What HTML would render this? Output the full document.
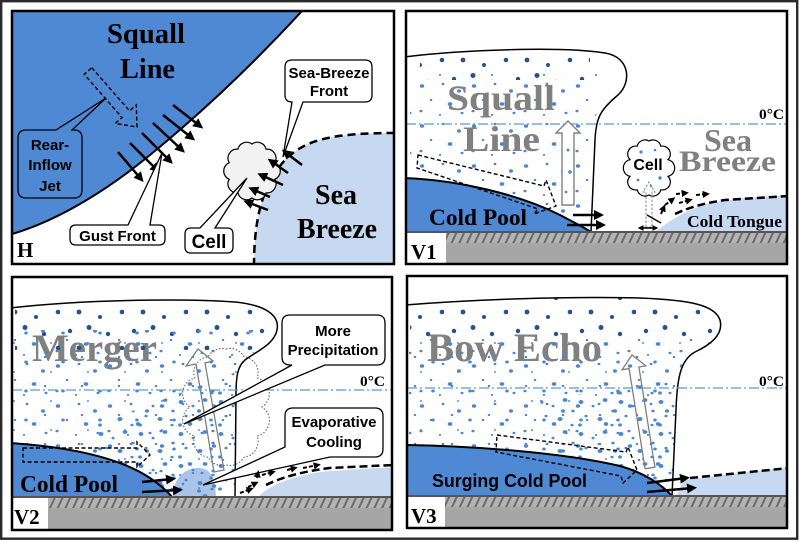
<!DOCTYPE html>
<html><head><meta charset="utf-8">
<style>
html,body{margin:0;padding:0;background:#fff;}
svg{display:block;}
.sf{font-family:"Liberation Serif",serif;font-weight:bold;}
.ss{font-family:"Liberation Sans",sans-serif;font-weight:bold;}
</style></head><body>
<svg width="799" height="543" viewBox="0 0 799 543" xmlns="http://www.w3.org/2000/svg">
<defs>
 <marker id="ah" viewBox="0 0 10 10" refX="6" refY="5" markerWidth="4" markerHeight="4" orient="auto-start-reverse" markerUnits="strokeWidth"><path d="M0,0 L10,5 L0,10 Z" fill="#000"/></marker>
 <marker id="ahs" viewBox="0 0 10 10" refX="6" refY="5" markerWidth="3.6" markerHeight="3.6" orient="auto-start-reverse" markerUnits="strokeWidth"><path d="M0,0 L10,5 L0,10 Z" fill="#000"/></marker>
 <pattern id="hatch" patternUnits="userSpaceOnUse" width="7" height="7" patternTransform="rotate(25)">
  <rect width="7" height="7" fill="#b3b3b3"/><rect x="0" y="0" width="2" height="7" fill="#6b6b6b"/>
 </pattern>
 <pattern id="ps" patternUnits="userSpaceOnUse" width="64" height="36">
  <g fill="#24528f"><circle cx="6" cy="7" r="2.2"/><circle cx="25" cy="3.5" r="2.5"/><circle cx="44" cy="10" r="2.2"/><circle cx="58" cy="24" r="2.3"/><circle cx="15" cy="24" r="2.4"/><circle cx="36" cy="29" r="2"/></g>
 </pattern>
 <pattern id="pds" patternUnits="userSpaceOnUse" width="52" height="40">
  <g fill="#4a87d0"><ellipse cx="6" cy="6" rx="2.2" ry="1.8"/><ellipse cx="27" cy="4" rx="1.4" ry="1.2"/><ellipse cx="43" cy="11" rx="2" ry="1.7"/><ellipse cx="15" cy="20" rx="1.3" ry="1.1"/><ellipse cx="34" cy="24" rx="2.3" ry="1.9"/><ellipse cx="5" cy="31" rx="1.6" ry="1.3"/><ellipse cx="24" cy="35" rx="1.2" ry="1"/><ellipse cx="46" cy="33" rx="1.5" ry="1.2"/></g>
 </pattern>
 <pattern id="pdt" patternUnits="userSpaceOnUse" width="37" height="29">
  <g fill="#4a87d0"><ellipse cx="8" cy="9" rx="1.3" ry="1.1"/><ellipse cx="26" cy="14" rx="1.8" ry="1.5"/><ellipse cx="14" cy="24" rx="1.1" ry="0.9"/></g>
 </pattern>
 <pattern id="pd2" patternUnits="userSpaceOnUse" width="40" height="32" patternTransform="translate(17,13)">
  <g fill="#4a87d0"><ellipse cx="4" cy="5" rx="2.4" ry="2"/><ellipse cx="16" cy="9" rx="1.5" ry="1.3"/><ellipse cx="28" cy="3" rx="2.4" ry="1.9"/><ellipse cx="36" cy="14" rx="1.7" ry="1.4"/><ellipse cx="9" cy="19" rx="1.6" ry="1.3"/><ellipse cx="23" cy="22" rx="2.5" ry="2"/><ellipse cx="35" cy="28" rx="1.6" ry="1.3"/><ellipse cx="3" cy="28" rx="1.9" ry="1.6"/></g>
 </pattern>
 <clipPath id="cH"><rect x="12" y="11" width="382" height="253"/></clipPath>
 <clipPath id="cV1"><rect x="406" y="11" width="381" height="253"/></clipPath>
 <clipPath id="cV2"><rect x="12" y="277" width="380" height="253"/></clipPath>
 <clipPath id="cV3"><rect x="407" y="276" width="380" height="252"/></clipPath>
 <clipPath id="dV1"><path d="M410,74 L598,74 L596,120 L593,140 L591,215 L410,215 Z"/></clipPath>
 <clipPath id="sV1"><path d="M420,52 C470,49 540,48 590,52 L590,80 L420,80 Z"/></clipPath>
 <clipPath id="dV2"><path d="M12,330 L266,330 L272,340 L253,353 L240,367 L237,390 L235,497 L12,497 Z"/></clipPath>
 <clipPath id="dV2b"><path d="M95,425 L236,372 L235,497 L120,497 Z"/></clipPath>
 <clipPath id="sV2"><path d="M15,306 C80,300 180,298 235,302 C262,305 275,315 275,330 L270,342 L250,350 L15,350 Z"/></clipPath>
 <clipPath id="dV3"><path d="M409,335 L722,335 L712,343 L692,353 L679,370 L676,410 L672,495 L409,495 Z"/></clipPath>
 <clipPath id="dV3b"><path d="M540,400 L676,380 L672,495 L560,495 Z"/></clipPath>
 <clipPath id="sV3"><path d="M410,306 C470,300 560,296 640,298 C690,300 715,305 720,320 L722,345 L410,345 Z"/></clipPath>
</defs>

<rect x="0" y="0" width="799" height="543" fill="#fff"/>
<rect x="1.2" y="1.2" width="796" height="537.5" fill="none" stroke="#2a2a2a" stroke-width="2.4"/>

<!-- ================= PANEL H ================= -->
<g clip-path="url(#cH)">
 <rect x="12" y="11" width="382" height="253" fill="#fff"/>
 <path d="M12,11 L302,11 C255,62 205,110 150,155 C110,188 60,220 12,234 Z" fill="#4f89d3"/>
 <path d="M302,11 C255,62 205,110 150,155 C110,188 60,220 12,234" fill="none" stroke="#000" stroke-width="2"/>
 <path d="M254,266 C254,220 262,185 285,160 C305,140 330,133 396,133 L396,266 Z" fill="#c6d9f1"/>
 <path d="M254,266 C254,220 262,185 285,160 C305,140 330,133 396,133" fill="none" stroke="#000" stroke-width="2.5" stroke-dasharray="8 5"/>
 <text class="sf" x="107" y="43" font-size="28" textLength="78" lengthAdjust="spacingAndGlyphs">Squall</text>
 <text class="sf" x="120" y="78" font-size="28" textLength="55" lengthAdjust="spacingAndGlyphs">Line</text>
 <polygon points="91.8,67.7 129.6,110.9 136.3,105 137,127 115.3,123.4 122,117.5 84.2,74.3" fill="none" stroke="#000" stroke-width="1.4" stroke-dasharray="4 2.5"/>
 <path d="M26,130 H56 L106,98 L72,130 H74 Q82,130 82,138 V190 Q82,198 74,198 H26 Q18,198 18,190 V138 Q18,130 26,130 Z" fill="#4f89d3" stroke="#000" stroke-width="1.3"/>
 <g class="ss" font-size="15" text-anchor="middle" fill="#000">
  <text x="50" y="150">Rear-</text>
  <text x="50" y="170">Inflow</text>
  <text x="50" y="191">Jet</text>
 </g>
 <g stroke="#000" stroke-width="2.5" marker-end="url(#ah)">
  <line x1="173" y1="105" x2="200" y2="126"/>
  <line x1="163" y1="115" x2="192" y2="138"/>
  <line x1="153" y1="123" x2="182" y2="150"/>
  <line x1="142" y1="133" x2="170" y2="161"/>
  <line x1="130" y1="143" x2="157" y2="170"/>
  <line x1="118" y1="152" x2="141" y2="179"/>
 </g>
 <path d="M76,225 H128 L162,153 L150,225 H159 Q165,225 165,231 V239 Q165,245 159,245 H76 Q70,245 70,239 V231 Q70,225 76,225 Z" fill="#fff" stroke="#000" stroke-width="1.3"/>
 <text class="ss" x="117.5" y="241" font-size="15" text-anchor="middle">Gust Front</text>
 <path d="M252,144 A9,9 0 0 1 266.1,149.2 A9,9 0 0 1 274.8,162.7 A9,9 0 0 1 274.8,179.3 A9,9 0 0 1 266.1,192.8 A9,9 0 0 1 252,198 A9,9 0 0 1 237.9,192.8 A9,9 0 0 1 229.2,179.3 A9,9 0 0 1 229.2,162.7 A9,9 0 0 1 237.9,149.2 A9,9 0 0 1 252,144 Z" fill="#f2f2f2" stroke="#000" stroke-width="1.2"/>
 <path d="M191,228 H200 L247,178 L215,228 H227 Q233,228 233,234 V247 Q233,253 227,253 H191 Q185,253 185,247 V234 Q185,228 191,228 Z" fill="#fff" stroke="#000" stroke-width="1.3"/>
 <text class="ss" x="209" y="248" font-size="19" text-anchor="middle">Cell</text>
 <g stroke="#000" stroke-width="2.5" marker-end="url(#ah)">
  <line x1="302" y1="165" x2="285" y2="152"/>
  <line x1="288" y1="173" x2="271" y2="161"/>
  <line x1="283" y1="185" x2="261" y2="175"/>
  <line x1="270" y1="197" x2="252" y2="189"/>
  <line x1="268" y1="210" x2="247" y2="202"/>
 </g>
 <path d="M292,60 H365 Q372,60 372,67 V95 Q372,102 365,102 H303 L283,157 L292,102 Q285,102 285,95 V67 Q285,60 292,60 Z" fill="#fff" stroke="#000" stroke-width="1.3"/>
 <g class="ss" font-size="15" text-anchor="middle">
  <text x="329" y="78">Sea-Breeze</text>
  <text x="329" y="96">Front</text>
 </g>
 <text class="sf" x="315" y="204" font-size="28" textLength="42" lengthAdjust="spacingAndGlyphs">Sea</text>
 <text class="sf" x="297" y="238" font-size="28" textLength="80" lengthAdjust="spacingAndGlyphs">Breeze</text>
 <text class="sf" x="17" y="257" font-size="21">H</text>
</g>
<rect x="12" y="11" width="382" height="253" fill="none" stroke="#000" stroke-width="2.5"/>

<!-- ================= PANEL V1 ================= -->
<g clip-path="url(#cV1)">
 <rect x="406" y="11" width="381" height="253" fill="#fff"/>
 <text class="sf" x="447" y="110" font-size="36" fill="#808080" textLength="108" lengthAdjust="spacingAndGlyphs">Squall</text>
 <text class="sf" x="463" y="151" font-size="36" fill="#808080" textLength="77" lengthAdjust="spacingAndGlyphs">Line</text>
 <rect x="410" y="48" width="185" height="35" fill="url(#ps)" clip-path="url(#sV1)"/>
 <rect x="406" y="70" width="200" height="150" fill="url(#pds)" clip-path="url(#dV1)"/>
 <path d="M655,232 C668,222 685,210 710,203 C735,198 760,197 789,195 L789,234 L655,234 Z" fill="#c6d9f1"/>
 <path d="M675,214 C690,207 705,203 725,200 L789,196" fill="none" stroke="#000" stroke-width="2.5" stroke-dasharray="8 4"/>
 <path d="M404,178 C460,180 520,195 560,215 C575,223 585,228 591,232 L404,232 Z" fill="#4f89d3"/>
 <path d="M404,178 C460,180 520,195 560,215 C575,223 585,228 591,232" fill="none" stroke="#000" stroke-width="2"/>
 <path d="M404,57 C460,50 560,46 605,53 C630,57 632,82 618,95 C600,110 596,118 595,140 L591,232" fill="none" stroke="#000" stroke-width="1.5"/>
 <line x1="406" y1="124" x2="787" y2="124" stroke="#5b9bd5" stroke-width="1.3" stroke-dasharray="10 3 2 3"/>
 <text class="sf" x="759" y="119" font-size="15" textLength="25" lengthAdjust="spacingAndGlyphs">0°C</text>
 <polygon points="418,155 544,186 546,180 556,206 534,214 538,209 417,168" fill="none" stroke="#000" stroke-width="1.4" stroke-dasharray="4 2.5"/>
 <polygon points="562,205 562,133 556,133 568,121 580,133 574,133 574,205" fill="#fff" stroke="#7f7f7f" stroke-width="1.4"/>
 <g fill="#4a87d0"><circle cx="568" cy="150" r="1.5"/><circle cx="570" cy="172" r="1.8"/><circle cx="566" cy="192" r="1.4"/></g>
 <path d="M649,141 A8,8 0 0 1 660.8,146.2 A8,8 0 0 1 668,159.7 A8.5,8.5 0 0 1 668,176.3 A8,8 0 0 1 660.8,189.8 A8,8 0 0 1 649,195 A8,8 0 0 1 637.2,189.8 A8,8 0 0 1 630,176.3 A8.5,8.5 0 0 1 630,159.7 A8,8 0 0 1 637.2,146.2 A8,8 0 0 1 649,141 Z" fill="#fff" stroke="#000" stroke-width="1.2"/>
 <g fill="#4a87d0"><circle cx="641" cy="152" r="1.6"/><circle cx="655" cy="150" r="1.3"/><circle cx="660" cy="178" r="1.7"/><circle cx="638" cy="180" r="1.4"/><circle cx="651" cy="186" r="1.2"/></g>
 <text class="ss" x="648" y="170" font-size="16" text-anchor="middle">Cell</text>
 <polygon points="646,227 646,192 643,192 649,182 655,192 652,192 652,227" fill="none" stroke="#888" stroke-width="1" stroke-dasharray="2.5 1.5"/>
 <line x1="640" y1="228" x2="656" y2="228" stroke="#000" stroke-width="1.6" marker-start="url(#ahs)" marker-end="url(#ahs)"/>
 <line x1="647" y1="215" x2="661" y2="223" stroke="#000" stroke-width="1.4"/>
 <g stroke="#000" stroke-width="2.5" marker-end="url(#ah)">
  <line x1="573" y1="215" x2="600" y2="215"/>
  <line x1="567" y1="225" x2="602" y2="225"/>
 </g>
 <g stroke="#000" stroke-width="2" stroke-dasharray="4 2" marker-end="url(#ahs)">
  <line x1="661" y1="214" x2="664" y2="207"/>
  <line x1="665" y1="205" x2="673" y2="199"/>
  <line x1="679" y1="203" x2="690" y2="200"/>
  <line x1="676" y1="194" x2="686" y2="193"/>
  <line x1="696" y1="195" x2="707" y2="194"/>
 </g>
 <text class="sf" x="704" y="151" font-size="32" fill="#808080" textLength="48" lengthAdjust="spacingAndGlyphs">Sea</text>
 <text class="sf" x="679" y="171" font-size="30" fill="#808080" textLength="97" lengthAdjust="spacingAndGlyphs">Breeze</text>
 <text class="sf" x="687" y="227" font-size="17" textLength="95" lengthAdjust="spacingAndGlyphs">Cold Tongue</text>
 <text class="sf" x="429" y="225" font-size="23" textLength="98" lengthAdjust="spacingAndGlyphs">Cold Pool</text>
 <rect x="406" y="231" width="381" height="2.2" fill="#555"/>
 <rect x="406" y="233" width="381" height="10" fill="url(#hatch)"/>
 <rect x="406" y="243" width="381" height="22" fill="#a6a6a6"/>
 <rect x="406" y="233" width="40" height="32" fill="#fff"/>
 <text class="sf" x="411" y="259" font-size="21">V1</text>
</g>
<rect x="406" y="11" width="381" height="253" fill="none" stroke="#000" stroke-width="2.5"/>

<!-- ================= PANEL V2 ================= -->
<g clip-path="url(#cV2)">
 <rect x="12" y="277" width="380" height="253" fill="#fff"/>
 <text class="sf" x="32" y="361" font-size="39" fill="#808080" textLength="125" lengthAdjust="spacingAndGlyphs">Merger</text>
 <rect x="12" y="300" width="265" height="55" fill="url(#ps)" clip-path="url(#sV2)"/>
 <path d="M173,497 C173,478 185,468 198,468 C210,468 215,476 216,497 Z" fill="#a9c4e8"/>
 <rect x="12" y="325" width="265" height="175" fill="url(#pds)" clip-path="url(#dV2)"/>
 <rect x="12" y="325" width="265" height="175" fill="url(#pdt)" clip-path="url(#dV2)"/>
 <rect x="90" y="370" width="150" height="130" fill="url(#pd2)" clip-path="url(#dV2b)"/>
 <path d="M258,497 C270,484 298,474 330,471 L394,467 L394,499 L258,499 Z" fill="#c6d9f1"/>
 <path d="M266,485 C282,477 305,471 330,468 L394,465" fill="none" stroke="#000" stroke-width="2.5" stroke-dasharray="8 4"/>
 <path d="M10,443 C70,447 120,458 150,478 C160,485 168,492 172,497 L10,497 Z" fill="#4f89d3"/>
 <path d="M10,443 C70,447 120,458 150,478 C160,485 168,492 172,497" fill="none" stroke="#000" stroke-width="2"/>
 <polygon points="23,448 137,448 137,442 150,455 137,467 137,462 23,462" fill="none" stroke="#000" stroke-width="1.4" stroke-dasharray="4 2.5"/>
 <path d="M10,308 C80,300 180,298 235,302 C265,305 280,315 277,330 C274,345 255,352 245,360 C238,366 236,375 236,395 L235,497" fill="none" stroke="#000" stroke-width="1.5"/>
 <path d="M226,349 A16,16 0 0 1 244,356.8 A16,16 0 0 1 257.2,378 A16,16 0 0 1 262,407 A16,16 0 0 1 257.2,436 A16,16 0 0 1 244,457.2 A16,16 0 0 1 226,465 A16,16 0 0 1 208,457.2 A16,16 0 0 1 194.8,436 A16,16 0 0 1 190,407 A16,16 0 0 1 194.8,378 A16,16 0 0 1 208,356.8 A16,16 0 0 1 226,349 Z" fill="none" stroke="#666" stroke-width="1.1" stroke-dasharray="1.5 1.8"/>
 <polygon points="214,472 196,364 186,366 198,349 213,361 205,363 224,470" fill="none" stroke="#7f7f7f" stroke-width="1.3"/>
 <line x1="12" y1="390" x2="392" y2="390" stroke="#5b9bd5" stroke-width="1.3" stroke-dasharray="10 3 2 3"/>
 <text class="sf" x="360" y="386" font-size="15" textLength="25" lengthAdjust="spacingAndGlyphs">0°C</text>
 <path d="M290,315 H377 Q385,315 385,323 V357 Q385,365 377,365 H325 L184,424 L292,365 H290 Q282,365 282,357 V323 Q282,315 290,315 Z" fill="#fff" stroke="#000" stroke-width="1.3"/>
 <g class="ss" font-size="15" text-anchor="middle">
  <text x="333" y="336">More</text>
  <text x="333" y="355">Precipitation</text>
 </g>
 <path d="M293,408 H375 Q383,408 383,416 V449 Q383,457 375,457 H330 L203,485 L285,447 V416 Q285,408 293,408 Z" fill="#fff" stroke="#000" stroke-width="1.3"/>
 <g class="ss" font-size="15" text-anchor="middle">
  <text x="334" y="427">Evaporative</text>
  <text x="334" y="447">Cooling</text>
 </g>
 <g stroke="#000" stroke-width="2.5" marker-end="url(#ah)">
  <line x1="142" y1="482" x2="172" y2="479"/>
  <line x1="142" y1="492" x2="179" y2="490"/>
 </g>
 <g stroke="#000" stroke-width="2" stroke-dasharray="4 2" marker-end="url(#ahs)">
  <line x1="240" y1="493" x2="251" y2="489"/>
  <line x1="248" y1="487" x2="256" y2="483"/>
  <line x1="257" y1="478" x2="258" y2="473"/>
  <line x1="262" y1="475" x2="273" y2="472"/>
  <line x1="287" y1="470" x2="295" y2="468"/>
  <line x1="303" y1="468" x2="318" y2="465"/>
 </g>
 <text class="sf" x="20" y="492" font-size="24" textLength="98" lengthAdjust="spacingAndGlyphs">Cold Pool</text>
 <rect x="12" y="496" width="380" height="2.2" fill="#555"/>
 <rect x="12" y="498" width="380" height="10" fill="url(#hatch)"/>
 <rect x="12" y="508" width="380" height="23" fill="#a6a6a6"/>
 <rect x="12" y="498" width="36" height="33" fill="#fff"/>
 <text class="sf" x="14" y="524" font-size="21">V2</text>
</g>
<rect x="12" y="277" width="380" height="253" fill="none" stroke="#000" stroke-width="2.5"/>

<!-- ================= PANEL V3 ================= -->
<g clip-path="url(#cV3)">
 <rect x="407" y="276" width="380" height="252" fill="#fff"/>
 <text class="sf" x="427" y="361" font-size="40" fill="#808080" textLength="175" lengthAdjust="spacingAndGlyphs">Bow Echo</text>
 <rect x="407" y="296" width="320" height="52" fill="url(#ps)" clip-path="url(#sV3)"/>
 <rect x="407" y="330" width="320" height="170" fill="url(#pds)" clip-path="url(#dV3)"/>
 <rect x="407" y="330" width="320" height="170" fill="url(#pdt)" clip-path="url(#dV3)"/>
 <rect x="530" y="375" width="150" height="125" fill="url(#pd2)" clip-path="url(#dV3b)"/>
 <path d="M676,497 L684,480 L789,467 L789,498 L676,498 Z" fill="#c6d9f1"/>
 <path d="M690,478 L789,468" fill="none" stroke="#000" stroke-width="2.5" stroke-dasharray="8 4"/>
 <path d="M405,445 C470,446 560,452 620,466 C645,473 662,485 672,496 L405,496 Z" fill="#4f89d3"/>
 <path d="M405,445 C470,446 560,452 620,466 C645,473 662,485 672,496" fill="none" stroke="#000" stroke-width="2"/>
 <polygon points="497,435 626,452 628,447 637,470 623,483 621,476 496,452" fill="none" stroke="#000" stroke-width="1.4" stroke-dasharray="4 2.5"/>
 <path d="M405,305 C470,300 560,296 640,298 C690,300 715,305 720,320 C724,335 710,345 695,352 C680,360 677,380 676,410 L672,496" fill="none" stroke="#000" stroke-width="1.5"/>
 <polygon points="645.1,468.8 629.1,368.6 622.1,369.7 632,355 645.9,365.9 638.9,367 654.9,467.2" fill="none" stroke="#7f7f7f" stroke-width="1.3"/>
 <line x1="407" y1="388" x2="787" y2="388" stroke="#5b9bd5" stroke-width="1.3" stroke-dasharray="10 3 2 3"/>
 <text class="sf" x="759" y="386" font-size="15" textLength="25" lengthAdjust="spacingAndGlyphs">0°C</text>
 <g stroke="#000" stroke-width="2.5" marker-end="url(#ah)">
  <line x1="647" y1="483" x2="686" y2="478"/>
  <line x1="647" y1="492" x2="693" y2="488"/>
 </g>
 <text class="ss" x="432" y="487" font-size="18" textLength="155" lengthAdjust="spacingAndGlyphs">Surging Cold Pool</text>
 <rect x="407" y="495" width="380" height="2.2" fill="#555"/>
 <rect x="407" y="497" width="380" height="10" fill="url(#hatch)"/>
 <rect x="407" y="507" width="380" height="22" fill="#a6a6a6"/>
 <rect x="407" y="497" width="38" height="32" fill="#fff"/>
 <text class="sf" x="411" y="523" font-size="21">V3</text>
</g>
<rect x="407" y="276" width="380" height="252" fill="none" stroke="#000" stroke-width="2.5"/>
</svg>
</body></html>
